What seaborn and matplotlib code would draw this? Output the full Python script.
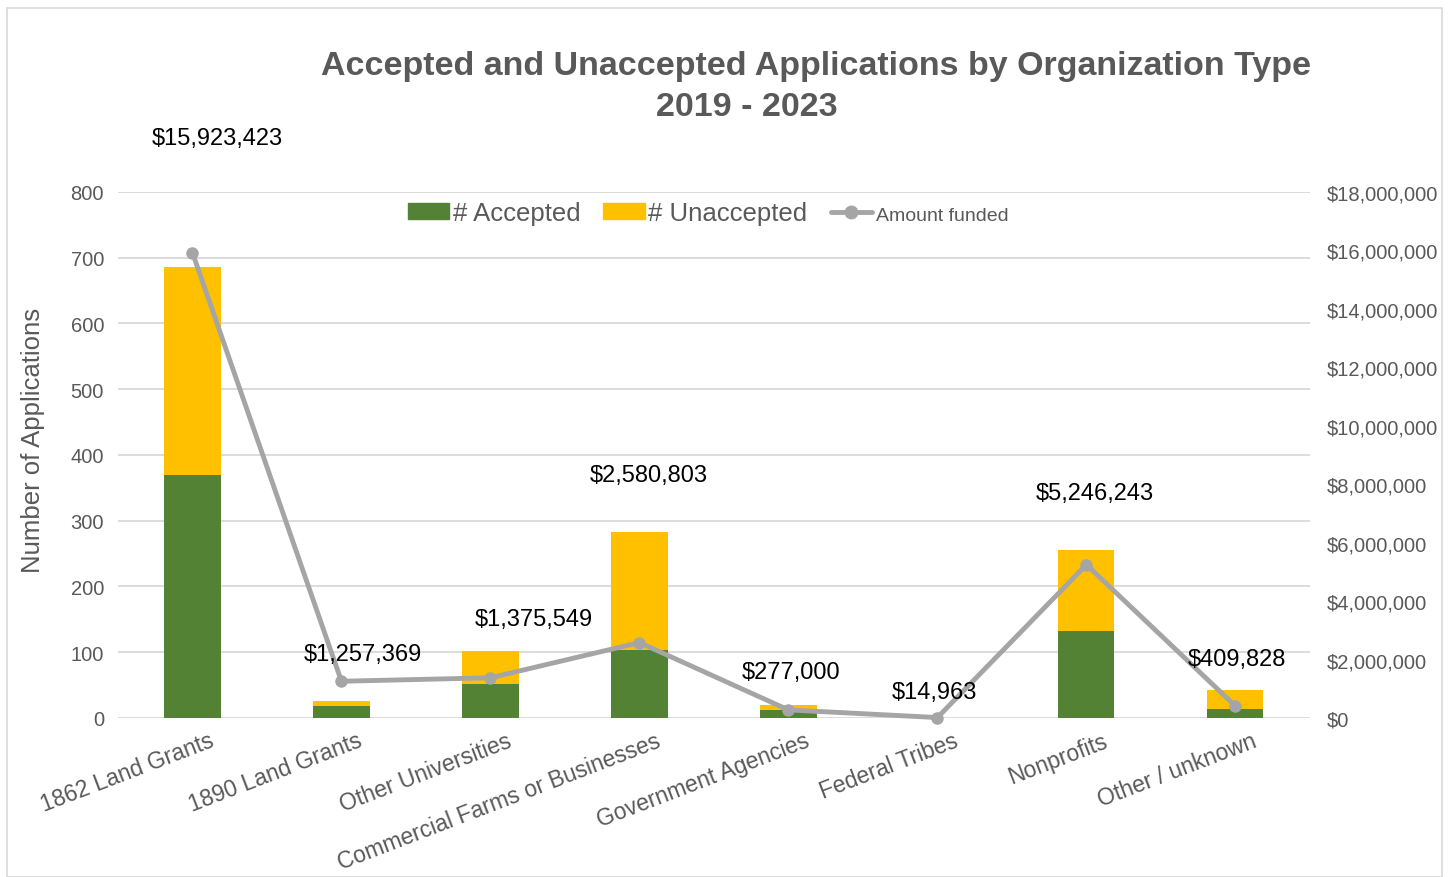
import numpy as np
import pandas as pd
import matplotlib
matplotlib.use("Agg")
import matplotlib.pyplot as plt
import matplotlib.transforms as mtransforms
import seaborn as sns
from matplotlib.patches import Patch, Rectangle
from matplotlib.lines import Line2D
from matplotlib.ticker import FuncFormatter

# data
categories = ["1862 Land Grants", "1890 Land Grants", "Other Universities",
              "Commercial Farms or Businesses", "Government Agencies",
              "Federal Tribes", "Nonprofits", "Other / unknown"]
accepted = [370, 19, 51, 103, 12, 0, 132, 14]
unaccepted = [316, 7, 51, 180, 8, 0, 123, 28]
funded = [15923423, 1257369, 1375549, 2580803, 277000, 14963, 5246243, 409828]

# label offsets in pixels from each point (labels were hand placed)
label_offsets = [(25, 115), (21, 27), (43, 59), (9, 168), (3, 38), (-3, 26), (8, 72), (2, 47)]

GREEN = "#548235"
YELLOW = "#FFC000"
LINE = "#A5A5A5"
TXT = "#595959"
GRID = "#D9D9D9"

df = pd.DataFrame({"category": categories, "accepted": accepted,
                   "unaccepted": unaccepted, "funded": funded})
df["total"] = df["accepted"] + df["unaccepted"]

sns.set_style("white")
plt.rcParams["font.family"] = ["Liberation Sans", "DejaVu Sans"]

fig = plt.figure(figsize=(14.49, 8.78), dpi=100)
ax = fig.add_axes([0.0814, 0.1811, 0.8226, 0.5991])

sns.barplot(data=df, x="category", y="total", color=YELLOW, width=0.377,
            saturation=1, linewidth=0, ax=ax, zorder=2)
sns.barplot(data=df, x="category", y="accepted", color=GREEN, width=0.377,
            saturation=1, linewidth=0, ax=ax, zorder=3)

ax.set_ylim(0, 800)
ax.set_yticks(range(0, 801, 100))
ax.set_xlim(-0.5, len(categories) - 0.5)
ax.yaxis.grid(True, color=GRID, linewidth=1.3, zorder=0)
ax.set_axisbelow(True)
for s in ax.spines.values():
    s.set_visible(False)
ax.tick_params(axis="both", length=0, labelsize=14.5, labelcolor=TXT)
ax.tick_params(axis="y", pad=10)
ax.set_xlabel("")
ax.set_ylabel("Number of Applications", fontsize=18.5, color=TXT)
ax.yaxis.set_label_coords(-0.061, 0.53)
ax.set_xticks(range(len(categories)))
ax.set_xticklabels(categories, rotation=21, ha="right", rotation_mode="anchor",
                   fontsize=16.5, color=TXT)
shift = mtransforms.ScaledTranslation(16 / 100, -6 / 100, fig.dpi_scale_trans)
for lbl in ax.get_xticklabels():
    lbl.set_transform(lbl.get_transform() + shift)

ax2 = ax.twinx()
sns.lineplot(x=np.arange(len(categories)), y=df["funded"], ax=ax2, color=LINE,
             linewidth=3.5, marker="o", markersize=9, markeredgewidth=0,
             zorder=4, clip_on=False)
ax2.set_ylim(0, 18000000)
ax2.set_yticks(range(0, 18000001, 2000000))
ax2.yaxis.set_major_formatter(FuncFormatter(lambda v, p: f"${v:,.0f}"))
ax2.tick_params(axis="y", length=0, labelsize=14.5, labelcolor=TXT, pad=12)
ax2.set_ylabel("")
for s in ax2.spines.values():
    s.set_visible(False)

for i, (v, (dx, dy)) in enumerate(zip(funded, label_offsets)):
    ax2.annotate(f"${v:,.0f}", (i, v), xytext=(dx, dy), textcoords="offset pixels",
                 ha="center", va="center", fontsize=17, color="black", zorder=6)

handles = [Patch(color=GREEN), Patch(color=YELLOW),
           Line2D([], [], color=LINE, linewidth=3.5, marker="o", markersize=9)]
leg = ax.legend(handles, ["# Accepted", "# Unaccepted", "Amount funded"],
                loc="center", bbox_to_anchor=(0.495, 0.96), ncol=3, frameon=False,
                handlelength=1.6, handleheight=0.55, handletextpad=0.15,
                columnspacing=0.9, fontsize=18.5)
for t, fs in zip(leg.get_texts(), [18.5, 18.5, 14]):
    t.set_color(TXT)
    t.set_fontsize(fs)

fig.text(0.563, 0.924, "Accepted and Unaccepted Applications by Organization Type",
         ha="center", va="center", fontsize=24.5, fontweight="bold", color=TXT)
fig.text(0.5155, 0.877, "2019 - 2023", ha="center", va="center", fontsize=24.5,
         fontweight="bold", color=TXT)

fig.patches.append(Rectangle((7 / 1449, 0), 1435 / 1449, 1 - 9 / 878,
                             transform=fig.transFigure, fill=False,
                             edgecolor=GRID, linewidth=1.2))

fig.savefig("out.png", dpi=100, facecolor="white")
